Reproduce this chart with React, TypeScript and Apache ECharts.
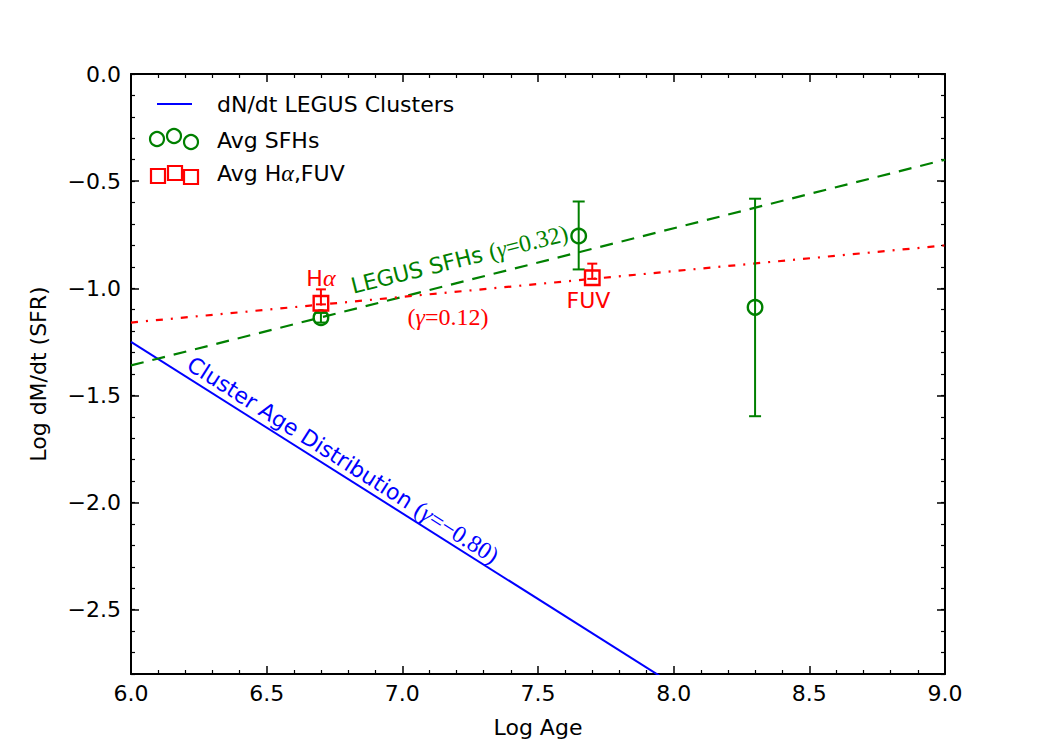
import React, { useEffect, useRef } from "react";
import * as echarts from "echarts";

// ---------- data ----------
const xTicks = [6.0, 6.5, 7.0, 7.5, 8.0, 8.5, 9.0];
const yTicks = [-2.5, -2.0, -1.5, -1.0, -0.5, 0.0];

// Avg SFHs (green circles)
const sfhAge = [6.7, 7.65, 8.3];
const sfhLogSFR = [-1.137, -0.756, -1.089];
const sfhErrLow = [-1.16, -0.912, -1.597];
const sfhErrHigh = [-1.115, -0.595, -0.582];

// Avg Halpha, FUV (red squares)
const obsAge = [6.7, 7.7];
const obsLogSFR = [-1.07, -0.951];
const obsErrLow = [-1.075, -0.956];
const obsErrHigh = [-1.005, -0.885];

// fitted lines (end points)
const clusterFit = [[6.0, -1.25], [9.0, -3.65]];
const sfhFit = [[6.0, -1.36], [9.0, -0.4]];
const obsFit = [[6.0, -1.16], [9.0, -0.8]];

// annotation anchors (data coordinates)
const annoHa = [6.7, -0.952];
const annoFUV = [7.686, -1.059];
const annoObsGamma = [7.168, -1.132];
const annoSfh = [7.211, -0.866];
const annoCluster = [6.781, -1.801];

const BLUE = "#0000ff";
const GREEN = "#008000";
const RED = "#ff0000";
const SANS = "DejaVu Sans";
const SERIF = "Liberation Serif";
const FS = 22;

const fmt = (v: number) =>
  Math.abs(v) < 1e-9 ? "0.0" : v.toFixed(1).replace("-", "\u2212");

const errRender = (color: string, half: number) => (params: any, api: any) => {
  const x = api.value(0);
  const lo = api.coord([x, api.value(1)]);
  const hi = api.coord([x, api.value(2)]);
  const style = { stroke: color, lineWidth: 2 };
  return {
    type: "group",
    children: [
      { type: "line", shape: { x1: lo[0], y1: lo[1], x2: hi[0], y2: hi[1] }, style },
      { type: "line", shape: { x1: lo[0] - half, y1: lo[1], x2: lo[0] + half, y2: lo[1] }, style },
      { type: "line", shape: { x1: hi[0] - half, y1: hi[1], x2: hi[0] + half, y2: hi[1] }, style },
    ],
  };
};

const richBase = {
  s: { fontFamily: SANS, fontSize: FS },
  m: { fontFamily: SERIF, fontSize: FS + 2 },
  g: { fontFamily: SERIF, fontSize: FS + 2, fontStyle: "italic" },
};

export default function App() {
  const ref = useRef<HTMLDivElement>(null);
  useEffect(() => {
    if (!ref.current) return;
    const chart = echarts.init(ref.current, null, { renderer: "svg" });

    const axisLineStyle = { color: "#000", width: 2 };
    const baseX = {
      type: "value",
      min: 6,
      max: 9,
      interval: 0.5,
      splitLine: { show: false },
      axisLine: { show: true, onZero: false, lineStyle: axisLineStyle },
      axisTick: { show: true, inside: true, length: 8, lineStyle: { color: "#000", width: 1.5 } },
      minorTick: { show: true, splitNumber: 5, length: 4, lineStyle: { color: "#000", width: 1.2 } },
    };
    const yMajor = (pos: string, labels: boolean) => ({
      type: "value",
      position: pos,
      min: -2.8,
      max: 0,
      splitLine: { show: false },
      axisLine: { show: true, onZero: false, lineStyle: axisLineStyle },
      axisTick: { show: true, inside: true, length: 8, customValues: yTicks, lineStyle: { color: "#000", width: 1.5 } },
      axisLabel: {
        show: labels,
        customValues: yTicks,
        formatter: fmt,
        fontSize: FS,
        fontFamily: SANS,
        color: "#000",
        margin: 10,
      },
    });
    const yMinor = (pos: string) => ({
      type: "value",
      position: pos,
      min: -2.8,
      max: 0,
      interval: 0.1,
      splitLine: { show: false },
      axisLine: { show: false },
      axisTick: { show: true, inside: true, length: 4, lineStyle: { color: "#000", width: 1.2 } },
      axisLabel: { show: false },
    });

    const option: any = {
      animation: false,
      backgroundColor: "#fff",
      grid: { left: 131, top: 74, width: 814, height: 600, containLabel: false },
      xAxis: [
        {
          ...baseX,
          position: "bottom",
          axisLabel: { formatter: fmt, fontSize: FS, fontFamily: SANS, color: "#000", margin: 8 },
          name: "Log Age",
          nameLocation: "middle",
          nameGap: 42,
          nameTextStyle: { fontSize: FS, fontFamily: SANS, color: "#000" },
        },
        { ...baseX, position: "top", axisLabel: { show: false } },
      ],
      yAxis: [
        {
          ...yMajor("left", true),
          name: "Log dM/dt (SFR)",
          nameLocation: "middle",
          nameRotate: 90,
          nameGap: 82,
          nameTextStyle: { fontSize: FS, fontFamily: SANS, color: "#000" },
        },
        yMinor("left"),
        yMajor("right", false),
        yMinor("right"),
      ],
      graphic: [
        { type: "line", shape: { x1: 157, y1: 104, x2: 192, y2: 104 }, style: { stroke: BLUE, lineWidth: 2 } },
        ...[[157, 139], [174, 136], [191, 142]].map(([cx, cy]) => ({
          type: "circle",
          shape: { cx, cy, r: 7 },
          style: { fill: "none", stroke: GREEN, lineWidth: 2.2 },
        })),
        ...[[158, 176], [175, 173], [191, 177]].map(([cx, cy]) => ({
          type: "rect",
          shape: { x: cx - 7, y: cy - 7, width: 14, height: 14 },
          style: { fill: "none", stroke: RED, lineWidth: 2.2 },
        })),
        {
          type: "text",
          x: 217,
          y: 104,
          style: { text: "dN/dt LEGUS Clusters", font: `${FS}px ${SANS}`, fill: "#000", verticalAlign: "middle" },
        },
        {
          type: "text",
          x: 217,
          y: 140,
          style: { text: "Avg SFHs", font: `${FS}px ${SANS}`, fill: "#000", verticalAlign: "middle" },
        },
        {
          type: "text",
          x: 217,
          y: 173,
          style: {
            text: "{a|Avg H}{b|α}{a|,FUV}",
            fill: "#000",
            verticalAlign: "middle",
            rich: {
              a: { fontSize: FS, fontFamily: SANS, fill: "#000" },
              b: { fontSize: FS + 2, fontFamily: SERIF, fontStyle: "italic", fill: "#000" },
            },
          },
        },
      ],
      series: [
        {
          type: "line",
          data: clusterFit,
          symbol: "none",
          clip: true,
          lineStyle: { color: BLUE, width: 2 },
          z: 2,
        },
        {
          type: "line",
          data: sfhFit,
          symbol: "none",
          clip: true,
          lineStyle: { color: GREEN, width: 2.2, type: [13, 9] },
          z: 2,
        },
        {
          type: "line",
          data: obsFit,
          symbol: "none",
          clip: true,
          lineStyle: { color: RED, width: 2.2, type: [7, 8, 2, 8] },
          z: 2,
        },
        {
          type: "custom",
          renderItem: errRender(GREEN, 6),
          data: sfhAge.map((x, i) => [x, sfhErrLow[i], sfhErrHigh[i]]),
          encode: { x: 0, y: [1, 2] },
          z: 3,
        },
        {
          type: "custom",
          renderItem: errRender(RED, 5),
          data: obsAge.map((x, i) => [x, obsErrLow[i], obsErrHigh[i]]),
          encode: { x: 0, y: [1, 2] },
          z: 3,
        },
        {
          type: "scatter",
          data: sfhAge.map((x, i) => [x, sfhLogSFR[i]]),
          symbol: "circle",
          symbolSize: 14.5,
          itemStyle: { color: "rgba(0,0,0,0)", borderColor: GREEN, borderWidth: 2.4, opacity: 1 },
          z: 4,
        },
        {
          type: "scatter",
          data: obsAge.map((x, i) => [x, obsLogSFR[i]]),
          symbol: "rect",
          symbolSize: 14.5,
          itemStyle: { color: "rgba(0,0,0,0)", borderColor: RED, borderWidth: 2.4, opacity: 1 },
          z: 4,
        },
        {
          type: "scatter",
          symbolSize: 0,
          silent: true,
          z: 5,
          itemStyle: { opacity: 1 },
          label: {
            show: true,
            position: "inside",
            align: "center",
            verticalAlign: "middle",
            opacity: 1,
            rich: richBase,
          },
          data: [
            {
              value: annoHa,
              label: { formatter: "{s|H}{g|α}", color: RED, rich: richBase },
            },
            {
              value: annoFUV,
              label: { formatter: "{s|FUV}", color: RED, rich: richBase },
            },
            {
              value: annoObsGamma,
              label: { formatter: "{m|(}{g|γ}{m|=0.12)}", color: RED, rich: richBase },
            },
            {
              value: annoSfh,
              label: {
                formatter: "{s|LEGUS SFHs }{m|(}{g|γ}{m|=0.32)}",
                color: GREEN,
                rotate: 14,
                rich: richBase,
              },
            },
            {
              value: annoCluster,
              label: {
                formatter: "{s|Cluster Age Distribution }{m|(}{g|γ}{m|=\u22120.80)}",
                color: BLUE,
                rotate: -32.5,
                rich: richBase,
              },
            },
          ],
        },
      ],
    };
    chart.setOption(option);
    return () => chart.dispose();
  }, []);
  return (
    <div
      ref={ref}
      style={{ position: "fixed", left: 0, top: 0, width: 1050, height: 750, background: "#fff" }}
    />
  );
}
